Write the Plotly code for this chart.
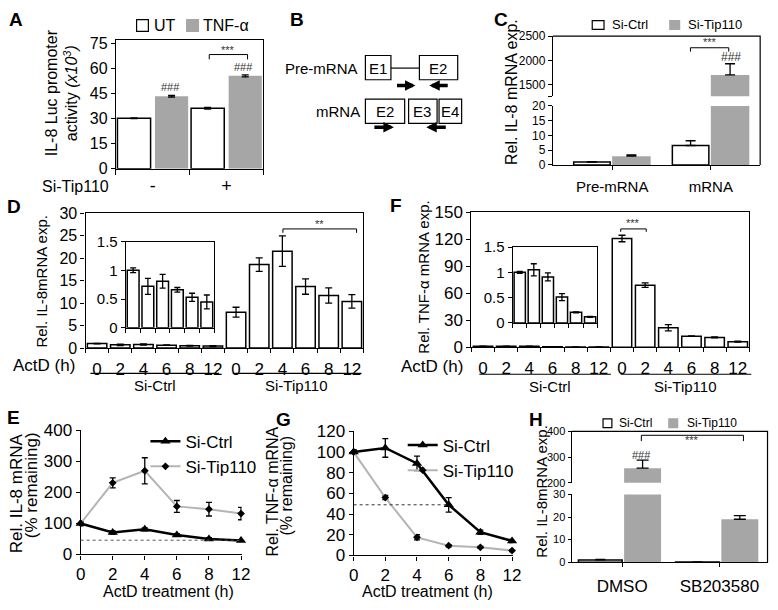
import plotly.graph_objects as go

W, H = 778, 610
FONT = "Arial, 'Liberation Sans', sans-serif"
GRAY = "#a6a6a6"
LINE_GRAY = "#b4b4b4"

# ---------------- data ----------------
# A: IL-8 Luc promoter activity (x10^3)
A_SITIP = ["-", "+"]
A_SERIES = ["UT", "TNF-α"]
A_UT = [30.4, 36.4]
A_UT_ERR = [0.2, 0.5]
A_TNF = [43.5, 55.8]
A_TNF_ERR = [0.5, 0.6]

# C: pre-mRNA vs mRNA
C_CATS = ["Pre-mRNA", "mRNA"]
SERIES = ["Si-Ctrl", "Si-Tip110"]
C_CTRL = [1.0, 6.6]
C_CTRL_ERR = [0.1, 1.6]
C_TIP = [3.0, 1700]
C_TIP_ERR = [0.4, 230]

# D / F: ActD chase, bars (Si-Ctrl then Si-Tip110)
ACTD_H = ["0", "2", "4", "6", "8", "12"]
D_CTRL = [1.0, 0.72, 0.81, 0.66, 0.53, 0.45]
D_CTRL_ERR = [0.04, 0.14, 0.12, 0.04, 0.07, 0.12]
D_TIP = [8.0, 18.6, 21.6, 13.7, 11.7, 10.4]
D_TIP_ERR = [1.1, 1.5, 3.4, 1.7, 1.7, 1.5]

F_CTRL = [1.0, 1.05, 0.91, 0.51, 0.21, 0.12]
F_CTRL_ERR = [0.02, 0.12, 0.08, 0.07, 0.01, 0.01]
F_TIP = [121, 69, 21.6, 12.2, 10.8, 6.1]
F_TIP_ERR = [3.6, 2.5, 3.5, 0.3, 0.5, 0.5]

# E / G: % remaining
E_CTRL = [100, 71, 81, 63, 50, 45]
E_CTRL_ERR = [5, 5, 5, 4, 4, 3]
E_TIP = [100, 231, 270, 155, 146, 132]
E_TIP_ERR = [8, 16, 42, 19, 22, 20]
E_HALF = 46

G_CTRL = [100, 104, 89, 49, 22.5, 14]
G_CTRL_ERR = [2, 9, 7, 7, 2, 1.5]
G_TIP = [100, 56, 17.5, 9.4, 7.8, 4.7]
G_TIP_ERR = [2, 2, 2.5, 1, 1, 1]
G_HALF = 49

# H: p38 inhibitor
H_CATS = ["DMSO", "SB203580"]
H_CTRL = [1.0, 0.1]
H_CTRL_ERR = [0.3, 0.0]
H_TIP = [257, 19]
H_TIP_ERR = [31, 1.6]


# ---------------- helpers (pixel -> paper) ----------------
def px(x):
    return x / W


def py(y):
    return 1 - y / H


def xd(l, r):
    return [l / W, r / W]


def yd(t, b):
    return [1 - b / H, 1 - t / H]


def err(vals, plus_only=False, width=3.5):
    e = dict(type="data", array=vals, color="black", thickness=1.3, width=width, visible=True)
    if plus_only:
        e.update(symmetric=False, arrayminus=[0] * len(vals))
    return e


def tfont(size):
    return dict(family=FONT, size=size, color="black")


def axis(domain, anchor, **kw):
    a = dict(domain=domain, anchor=anchor, showgrid=False, zeroline=False, showline=True,
             linecolor="black", linewidth=1.2, ticks="outside", ticklen=4, tickwidth=1.2,
             tickcolor="black", tickfont=tfont(16))
    a.update(kw)
    return a


shapes = []
annots = []


def seg(x0, y0, x1, y1, width=1.2, dash="solid", color="black", yref="paper"):
    if yref == "paper":
        y0, y1 = py(y0), py(y1)
    shapes.append(dict(type="line", xref="paper", yref=yref, x0=px(x0), y0=y0, x1=px(x1), y1=y1,
                       line=dict(color=color, width=width, dash=dash)))


def box(x0, y0, x1, y1, fill="white", line="black", width=1.2):
    shapes.append(dict(type="rect", xref="paper", yref="paper", x0=px(x0), y0=py(y1), x1=px(x1), y1=py(y0),
                       fillcolor=fill, line=dict(color=line, width=width)))


def txt(x, y, text, size=16, xanchor="center", angle=0, bold=False, color="black"):
    if bold:
        text = "<b>" + text + "</b>"
    annots.append(dict(x=px(x), y=py(y), xref="paper", yref="paper", text=text, showarrow=False,
                       xanchor=xanchor, yanchor="middle", textangle=angle,
                       font=dict(family=FONT, size=size, color=color)))


def bracket(x0, x1, y, drop, label, ly, size=11):
    seg(x0, y + drop, x0, y, width=1)
    seg(x0, y, x1, y, width=1)
    seg(x1, y, x1, y + drop, width=1)
    txt((x0 + x1) / 2, ly, label, size=size, color="#333")


white = dict(color="white", line=dict(color="black", width=1.5))
gray = dict(color=GRAY, line=dict(color=GRAY, width=0))

fig = go.Figure()

# ---------------- A ----------------
fig.add_bar(x=A_SITIP, y=A_UT, name=A_SERIES[0], xaxis="x", yaxis="y", offset=-0.48, width=0.45,
            marker=white, error_y=err(A_UT_ERR), showlegend=False)
fig.add_bar(x=A_SITIP, y=A_TNF, name=A_SERIES[1], xaxis="x", yaxis="y", offset=0.03, width=0.45,
            marker=gray, error_y=err(A_TNF_ERR), showlegend=False)

# ---------------- C (broken axis) ----------------
fig.add_bar(x=C_CATS, y=C_CTRL, name=SERIES[0], xaxis="x2", yaxis="y2", offset=-0.39, width=0.37,
            marker=white, error_y=err(C_CTRL_ERR, True, 5), showlegend=False)
for xa, ya in (("x2", "y2"), ("x3", "y3")):
    fig.add_bar(x=C_CATS, y=C_TIP, name=SERIES[1], xaxis=xa, yaxis=ya, offset=0.0, width=0.39,
                marker=gray, error_y=err(C_TIP_ERR, True, 5), showlegend=False)

# ---------------- D / F main + insets ----------------
n = len(ACTD_H)
pos12 = list(range(2 * n))
pos6 = list(range(n))
for (ctrl, cerr, tip, terr), (xm, ym, xi, yi) in (
        ((D_CTRL, D_CTRL_ERR, D_TIP, D_TIP_ERR), ("x4", "y4", "x5", "y5")),
        ((F_CTRL, F_CTRL_ERR, F_TIP, F_TIP_ERR), ("x6", "y6", "x7", "y7"))):
    fig.add_bar(x=pos12, y=ctrl + tip, xaxis=xm, yaxis=ym, width=0.84, marker=white,
                error_y=err(cerr + terr), showlegend=False)
    fig.add_bar(x=pos6, y=ctrl, xaxis=xi, yaxis=yi, width=0.8, marker=white,
                error_y=err(cerr, width=3), showlegend=False)

# ---------------- E / G lines ----------------
for (ctrl, cerr, tip, terr), (xa, ya, lg) in (
        ((E_CTRL, E_CTRL_ERR, E_TIP, E_TIP_ERR), ("x8", "y8", "legend")),
        ((G_CTRL, G_CTRL_ERR, G_TIP, G_TIP_ERR), ("x9", "y9", "legend2"))):
    fig.add_scatter(x=ACTD_H, y=ctrl, name=SERIES[0], xaxis=xa, yaxis=ya, mode="lines+markers",
                    line=dict(color="black", width=2.5),
                    marker=dict(symbol="triangle-up", size=9, color="black"),
                    error_y=err(cerr, width=3), cliponaxis=False, legend=lg)
    fig.add_scatter(x=ACTD_H, y=tip, name=SERIES[1], xaxis=xa, yaxis=ya, mode="lines+markers",
                    line=dict(color=LINE_GRAY, width=2),
                    marker=dict(symbol="diamond", size=6, color="black"),
                    error_y=err(terr, width=3), cliponaxis=False, legend=lg)

# ---------------- H (broken axis) ----------------
fig.add_bar(x=H_CATS, y=H_CTRL, name=SERIES[0], xaxis="x10", yaxis="y10", offset=-0.45, width=0.45,
            marker=white, error_y=err(H_CTRL_ERR, True, 5), showlegend=False)
for xa, ya in (("x10", "y10"), ("x11", "y11")):
    fig.add_bar(x=H_CATS, y=H_TIP, name=SERIES[1], xaxis=xa, yaxis=ya, offset=0.02, width=0.38,
                marker=gray, error_y=err(H_TIP_ERR, True, 6), showlegend=False)

# ---------------- axes ----------------
bound_minor = dict(ticks="outside", tickmode="linear", tick0=-0.5, dtick=1, ticklen=4,
                   tickwidth=1.2, tickcolor="black")
layout_axes = dict(
    # A
    xaxis=axis(xd(113, 263), "y", type="category", range=[-0.5, 1.5], mirror=True, tickson="boundaries",
               ticklen=5, tickfont=tfont(18)),
    yaxis=axis(yd(32, 165), "x", range=[0, 77.3], tickvals=[0, 15, 30, 45, 60, 75], mirror=True,
               tickfont=tfont(16)),
    # C
    xaxis2=axis(xd(558, 769), "y2", type="category", range=[-0.6, 1.5], tickfont=tfont(15),
                ticklabelstandoff=4),
    yaxis2=axis(yd(100, 161), "x2", range=[0, 20], tickvals=[0, 5, 10, 15, 20], tickfont=tfont(12)),
    xaxis3=axis(xd(558, 769), "y3", type="category", range=[-0.6, 1.5], visible=False),
    yaxis3=axis(yd(28, 90), "x3", range=[1260, 2500], tickvals=[1260, 1500, 2000, 2500],
                ticktext=["", "1500", "2000", "2500"], tickfont=tfont(12)),
    # D
    xaxis4=axis(xd(82, 365), "y4", range=[-0.5, 11.5], mirror=True, ticks="", tickmode="array",
                tickvals=pos12, ticktext=ACTD_H * 2, minor=bound_minor, ticklabelstandoff=5,
                tickfont=tfont(17)),
    yaxis4=axis(yd(211, 350), "x4", range=[0, 30], dtick=5, mirror=True),
    xaxis5=axis(xd(123, 213), "y5", range=[-0.5, 5.5], mirror=True, ticks="", showticklabels=False,
                minor=bound_minor),
    yaxis5=axis(yd(240, 329), "x5", range=[0, 1.5], tickvals=[0, 0.5, 1, 1.5],
                ticktext=["0", "0.5", "1", "1.5"], mirror=True, tickfont=tfont(15)),
    # F
    xaxis6=axis(xd(475, 758), "y6", range=[-0.5, 11.5], mirror=True, ticks="", tickmode="array",
                tickvals=pos12, ticktext=ACTD_H * 2, minor=bound_minor, ticklabelstandoff=5,
                tickfont=tfont(17)),
    yaxis6=axis(yd(210, 349), "x6", range=[0, 150], dtick=30, mirror=True, tickfont=tfont(17)),
    xaxis7=axis(xd(517, 603), "y7", range=[-0.5, 5.5], mirror=True, ticks="", showticklabels=False,
                minor=bound_minor),
    yaxis7=axis(yd(245.7, 324), "x7", range=[0, 1.5], tickvals=[0, 0.5, 1, 1.5],
                ticktext=["0", "0.5", "1", "1.5"], mirror=True, tickfont=tfont(15)),
    # E
    xaxis8=axis(xd(77, 241), "y8", type="category", range=[0, 5.02], tickfont=tfont(17)),
    yaxis8=axis(yd(435, 563), "x8", range=[0, 400], dtick=100, tickfont=tfont(17)),
    # G
    xaxis9=axis(xd(355, 517), "y9", type="category", range=[0, 5.02], tickfont=tfont(17)),
    yaxis9=axis(yd(436, 564), "x9", range=[0, 120], dtick=20, tickfont=tfont(17)),
    # H
    xaxis10=axis(xd(577, 777), "y10", type="category", range=[-0.52, 1.5], tickfont=tfont(17),
                 ticklabelstandoff=4),
    yaxis10=axis(yd(501, 571), "x10", range=[0, 30], dtick=10, ticklen=3, tickfont=tfont(11)),
    xaxis11=axis(xd(577, 777), "y11", type="category", range=[-0.52, 1.5], visible=False),
    yaxis11=axis(yd(436, 489), "x11", range=[200, 400], dtick=100, ticklen=3, tickfont=tfont(11)),
)

# ---------------- decorations ----------------
# panel letters
for letter, x, y in (("A", 11, 11), ("B", 297, 11), ("C", 505, 11), ("D", 9, 204),
                     ("F", 398, 203), ("E", 9, 422), ("G", 284, 424), ("H", 541, 424)):
    txt(x, y, letter, size=19, bold=True)

# A
box(134, 11, 146, 23)
txt(150, 17, A_SERIES[0], size=16, xanchor="left")
box(185, 11, 197, 23, fill=GRAY, line=GRAY)
txt(200, 17, A_SERIES[1], size=16, xanchor="left")
txt(58, 86, "IL-8 Luc promoter<br>activity <i>(x10<sup>3</sup>)</i>", size=16, angle=-90)
txt(108, 183, "Si-Tip110", size=16, xanchor="right")
bracket(208, 247, 47, 5, "***", 42)
txt(169, 81, "###", size=11, color="#333")
txt(243, 60, "###", size=11, color="#333")

# B diagram
txt(362, 61, "Pre-mRNA", size=15, xanchor="right")
txt(364, 106, "mRNA", size=15, xanchor="right")
box(367, 48, 393, 73)
seg(393, 61, 422, 61)
box(422, 48, 461, 73)
txt(380, 61, "E1", size=15)
txt(441, 61, "E2", size=15)
box(367, 93, 407, 118)
box(411, 93, 440, 118)
box(442, 93, 465, 118)
txt(387, 106, "E2", size=15)
txt(425, 106, "E3", size=15)
txt(453, 106, "E4", size=15)
for x_head, y0, tail in ((418, 79, -20), (432, 79, 20), (396, 122, -21), (429, 122, 21)):
    annots.append(dict(x=px(x_head), y=py(y0), xref="paper", yref="paper", ax=tail, ay=0, text="",
                       showarrow=True, arrowhead=2, arrowsize=0.6, arrowwidth=3.5, arrowcolor="black",
                       standoff=0, startstandoff=0))

# C
shapes.append(dict(type="path", xref="paper", yref="paper",
                   path=f"M{px(558)},{py(28)} L{px(769)},{py(28)} L{px(769)},{py(161)}",
                   line=dict(color="black", width=1.2)))
box(598, 12, 610, 21)
txt(616, 16, SERIES[0], size=13, xanchor="left")
box(677, 12, 687, 21, fill=GRAY, line=GRAY)
txt(693, 16, SERIES[1], size=13, xanchor="left")
txt(516, 86, "Rel. IL-8 mRNA exp.", size=16, angle=-90)
bracket(698, 737, 40, 4, "***", 34)
txt(739, 50, "###", size=12, color="#333")

# D
txt(37, 281, "Rel. IL-8mRNA exp.", size=15, angle=-90)
txt(73, 368, "ActD (h)", size=17, xanchor="right")
seg(87, 376, 218, 376)
seg(232, 376, 363, 376)
txt(153, 389, SERIES[0], size=15)
txt(297, 389, SERIES[1], size=15)
bracket(283, 358, 227, 4, "**", 222)

# F
txt(426, 277, "Rel. TNF-α mRNA exp.", size=15, angle=-90)
txt(468, 369, "ActD (h)", size=17, xanchor="right")
seg(483, 377, 617, 377)
seg(627, 377, 760, 377)
txt(555, 390, SERIES[0], size=15)
txt(693, 390, SERIES[1], size=15)
bracket(627, 653, 227, 3, "***", 221)

# E
txt(12, 500, "Rel. IL-8 mRNA", size=17, angle=-90)
txt(27, 492, "(% remaining)", size=17, angle=-90)
txt(167, 601, "ActD treatment (h)", size=16)
seg(77, E_HALF, 240, E_HALF, width=1, dash="dot", color="#555", yref="y8")

# G
txt(272, 498, "Rel. TNF-α mRNA", size=16, angle=-90)
txt(287, 492, "(% remaining)", size=16, angle=-90)
txt(430, 601, "ActD treatment (h)", size=16)
seg(355, G_HALF, 452, G_HALF, width=1, dash="dot", color="#333", yref="y9")

# H
shapes.append(dict(type="path", xref="paper", yref="paper",
                   path=f"M{px(577)},{py(436)} L{px(776.5)},{py(436)} L{px(776.5)},{py(571)}",
                   line=dict(color="black", width=1.2)))
box(609, 423, 618, 432)
txt(623, 427, SERIES[0], size=12, xanchor="left")
box(676, 423, 685, 432, fill=GRAY, line=GRAY)
txt(692, 427, SERIES[1], size=12, xanchor="left")
txt(546, 498, "Rel. IL-8mRNA exp.", size=15, angle=-90)
bracket(648, 752, 440, 6, "***", 445)
txt(648, 460, "###", size=11, color="#333")

legend_style = dict(bgcolor="rgba(0,0,0,0)", font=tfont(17), xanchor="left", yanchor="top",
                    tracegroupgap=0, itemwidth=30)
fig.update_layout(
    width=W, height=H, margin=dict(l=0, r=0, t=0, b=0),
    paper_bgcolor="white", plot_bgcolor="rgba(0,0,0,0)",
    barmode="overlay", font=dict(family=FONT, color="black"),
    shapes=shapes, annotations=annots,
    legend=dict(x=px(143), y=py(428), **legend_style),
    legend2=dict(x=px(405), y=py(432), **legend_style),
    **layout_axes,
)

# page body has an 8px default margin; drop it so the figure sits at the window origin
fig.write_html("out.html", config={"displayModeBar": False},
               post_script="document.body.style.margin='0';")
